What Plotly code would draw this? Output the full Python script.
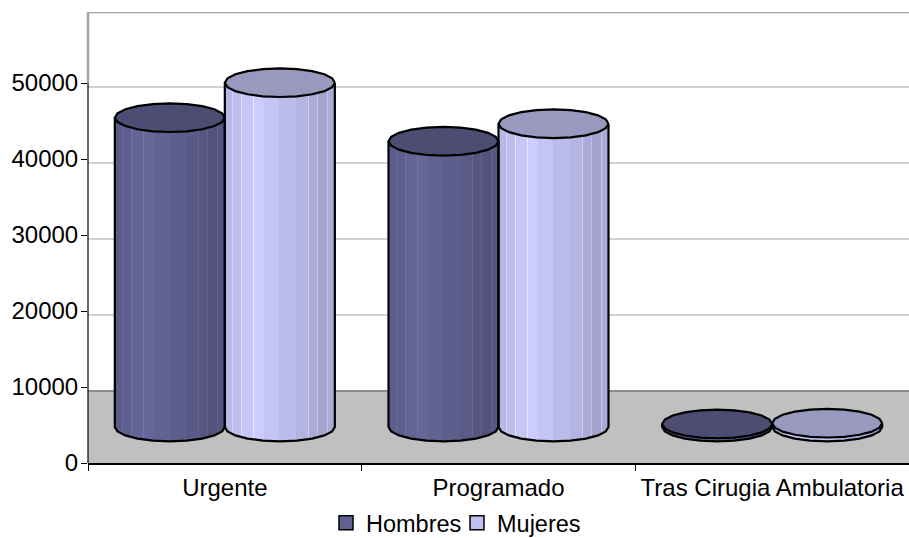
import numpy as np
import plotly.graph_objects as go

# --- data -------------------------------------------------------------
CATEGORIES = ["Urgente", "Programado", "Tras Cirugia Ambulatoria"]
HOMBRES = [40700, 37600, 400]
MUJERES = [45300, 39900, 500]
Y_TICKS = [0, 10000, 20000, 30000, 40000, 50000]
WALL_TICKS = [10000, 20000, 30000, 40000]

# --- oblique projection (units of the value axis) ----------------------
UNITS_PER_PX = 10000 / 76.0
WALL_SHIFT = 72 * UNITS_PER_PX      # back wall relative to the front axis
MID_SHIFT = 36 * UNITS_PER_PX       # plane through the cylinder axes
Y_TOP = 451 * UNITS_PER_PX
RX = 0.201
RY = 14.3 * UNITS_PER_PX
OFFSET = 0.201

FACET_EDGES = [0, .076, .157, .264, .364, .5, .65, .77, .85, .94, 1]
FACET_SHADE = [.90, .93, .97, 1.0, .96, .92, .88, .84, .80, .84]
SEAMS = [.076, .157, .264, .77, .85, .94]


def wall(v):
    return v + WALL_SHIFT


def mid(v):
    return v + MID_SHIFT


def rgb(c, k):
    return "rgb(%d,%d,%d)" % tuple(min(255, round(a * k)) for a in c)


def strips(values, offset, base):
    """Vertical one-pixel strips that shade one series of cylinders."""
    n = 110
    xs, bases, hs, cols = [], [], [], []
    w = 2 * RX / n
    for cat, v in enumerate(values):
        for i in range(n):
            f = (i + .5) / n
            u = 2 * f - 1
            idx = np.searchsorted(FACET_EDGES, f) - 1
            k = FACET_SHADE[idx]
            if any(abs(f - s) < .5 / n for s in SEAMS):
                k *= 1.13
            b = mid(-RY * np.sqrt(max(0, 1 - u * u)))
            xs.append(cat + offset + u * RX)
            bases.append(b)
            hs.append(mid(v) - b)
            cols.append(rgb(base, k))
    return xs, hs, bases, cols, w


SERIES = [
    ("Hombres", HOMBRES, -OFFSET, (102, 102, 153), "#4d4d73", "legend"),
    ("Mujeres", MUJERES, OFFSET, (204, 204, 255), "#9999bf", "legend2"),
]

fig = go.Figure()

for name, vals, off, base, top, leg in SERIES:
    xs, hs, bases, cols, w = strips(vals, off, base)
    fig.add_trace(go.Bar(x=xs, y=hs, base=bases, width=w, showlegend=False,
                         marker=dict(color=cols, line=dict(width=0)),
                         hoverinfo="skip"))

theta = np.linspace(0, 2 * np.pi, 21)
low = np.linspace(np.pi, 2 * np.pi, 11)
for name, vals, off, base, top, leg in SERIES:
    for cat, v in enumerate(vals):
        cx = cat + off
        # side walls and lower rim
        ox = [cx - RX] + list(cx + RX * np.cos(low)) + [cx + RX]
        oy = [mid(v)] + list(mid(RY * np.sin(low))) + [mid(v)]
        fig.add_trace(go.Scatter(x=ox, y=oy, mode="lines", showlegend=False,
                                 line=dict(color="black", width=2.2),
                                 hoverinfo="skip"))
        # top face
        fig.add_trace(go.Scatter(x=cx + RX * np.cos(theta),
                                 y=mid(v) + RY * np.sin(theta),
                                 mode="lines", fill="toself", fillcolor=top,
                                 line=dict(color="black", width=2.2),
                                 showlegend=False, hoverinfo="skip"))

for name, vals, off, base, top, leg in SERIES:
    fig.add_trace(go.Scatter(x=[None], y=[None], mode="markers", name=name, legend=leg,
                             marker=dict(symbol="square", size=14, color=rgb(base, .95),
                                         line=dict(color="black", width=1.5))))

shapes = [
    dict(type="rect", xref="paper", x0=0, x1=1, yref="y", y0=0, y1=wall(0),
         fillcolor="#c0c0c0", line=dict(width=0), layer="below"),
    dict(type="line", xref="paper", x0=0, x1=1, yref="y", y0=wall(0), y1=wall(0),
         line=dict(color="#8c8c8c", width=2), layer="below"),
    dict(type="line", xref="paper", x0=0, x1=1, yref="y", y0=Y_TOP, y1=Y_TOP,
         line=dict(color="#a6a6a6", width=2.5), layer="below"),
    dict(type="line", xref="paper", x0=0, x1=0, yref="y", y0=Y_TICKS[-1], y1=Y_TOP,
         line=dict(color="#a6a6a6", width=2.5), layer="below"),
    dict(type="line", xref="paper", x0=0, x1=0, yref="y", y0=0, y1=Y_TICKS[-1],
         line=dict(color="black", width=1.2), layer="above"),
]
for t in WALL_TICKS:
    shapes.append(dict(type="line", xref="paper", x0=0, x1=1, yref="y",
                       y0=wall(t), y1=wall(t),
                       line=dict(color="#c0c0c0", width=1.5), layer="below"))

legend_common = dict(orientation="h", xanchor="left", y=-60 / 451, yanchor="middle",
                     itemwidth=30, bgcolor="rgba(0,0,0,0)", font=dict(size=23.5))

fig.update_layout(
    width=909, height=538, autosize=False,
    margin=dict(l=88, r=0, t=12, b=75, autoexpand=False),
    paper_bgcolor="white", plot_bgcolor="white",
    barmode="overlay", bargap=0, shapes=shapes,
    font=dict(family="Liberation Sans, Arial, sans-serif", size=23.5, color="black"),
    xaxis=dict(range=[-.5, 2.5], tickmode="array", tickvals=list(range(len(CATEGORIES))),
               ticktext=CATEGORIES, ticks="", showgrid=False, zeroline=False,
               showline=True, linecolor="black", linewidth=1.5, ticklabelstandoff=2,
               tickfont=dict(size=24),
               minor=dict(tickmode="array", tickvals=[-.5, .5, 1.5, 2.5], ticks="outside",
                          ticklen=6, tickcolor="black", tickwidth=1, showgrid=False)),
    yaxis=dict(range=[0, Y_TOP], tickmode="array", tickvals=Y_TICKS, ticks="outside",
               ticklen=6, tickcolor="black", showgrid=False, zeroline=False,
               showline=False, tickformat="d", ticklabelstandoff=-2,
               tickfont=dict(size=24)),
    legend=dict(x=(326 - 88) / 821, **legend_common),
    legend2=dict(x=(457 - 88) / 821, **legend_common),
)

fig.write_html("out.html", config=dict(displayModeBar=False),
               post_script="document.documentElement.style.overflow='hidden';"
                           "document.body.style.margin='0';")
